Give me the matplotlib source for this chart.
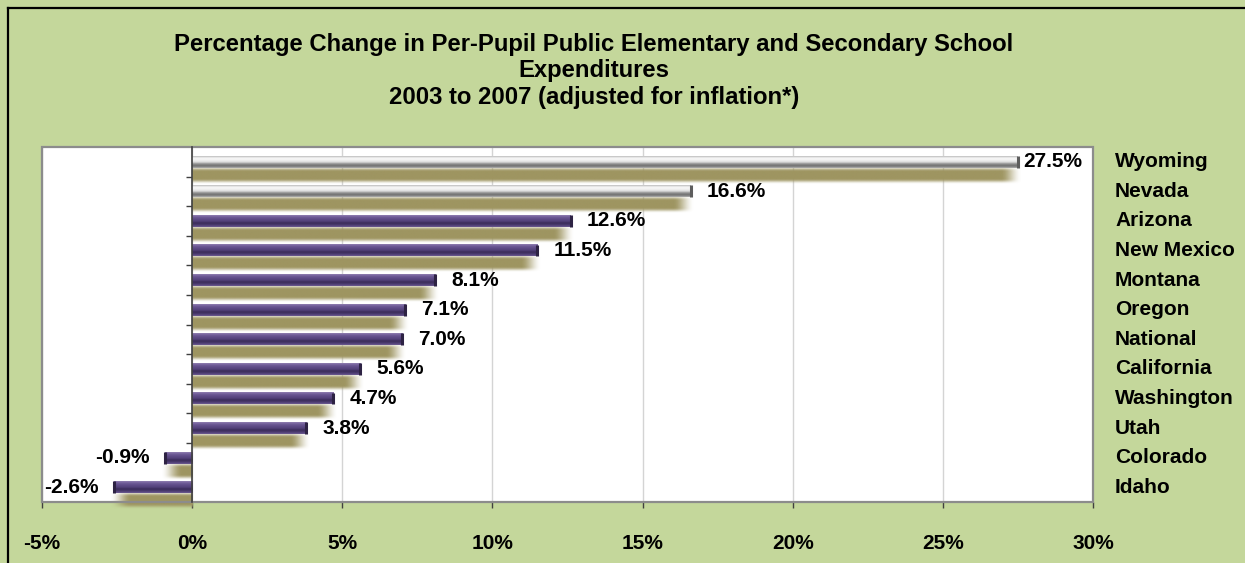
import matplotlib
matplotlib.use("Agg")
import matplotlib.pyplot as plt
from matplotlib.colors import to_rgb
from matplotlib.lines import Line2D
from matplotlib.patches import Rectangle
import numpy as np

plt.rcParams['font.family'] = ['Liberation Sans', 'DejaVu Sans']
plt.rcParams['font.weight'] = 'bold'

# per-pupil spending change, 2003 to 2007, inflation adjusted (%)
states = ['Wyoming', 'Nevada', 'Arizona', 'New Mexico', 'Montana', 'Oregon',
          'National', 'California', 'Washington', 'Utah', 'Colorado', 'Idaho']
change = [27.5, 16.6, 12.6, 11.5, 8.1, 7.1, 7.0, 5.6, 4.7, 3.8, -0.9, -2.6]
x_ticks = [-5, 0, 5, 10, 15, 20, 25, 30]
tick_labels = ['-5%', '0%', '5%', '10%', '15%', '20%', '25%', '30%']
title = ('Percentage Change in Per-Pupil Public Elementary and Secondary School\n'
         'Expenditures\n2003 to 2007 (adjusted for inflation*)')

BG = '#C4D79B'
SHADOW = '#9E9561'
PURPLE = ['#8F7EB0', '#6E5B96', '#5F4C87', '#54427B', '#3B2C5A', '#4A3A6E', '#6C5A92']
SILVER = ['#BEBEBE', '#F7F7F7', '#F2F2F2', '#DCDCDC', '#8E8E8E', '#6F6F6F', '#B0B0B0']


def blend(stops, n):
    pos = np.linspace(0, 1, len(stops))
    rgb = np.array([to_rgb(c) for c in stops])
    t = np.linspace(0, 1, n)
    return np.stack([np.interp(t, pos, rgb[:, k]) for k in range(3)], axis=-1)


def smooth(x):
    x = np.clip(x, 0, 1)
    return x * x * (3 - 2 * x)


def gradient_bar(ax, y, value, height, stops):
    col = blend(stops, 40)[:, None, :]
    img = np.repeat(col, 4, axis=1)
    ax.imshow(img, extent=(0, value, y + height / 2, y - height / 2), origin='upper',
              aspect='auto', interpolation='bilinear', zorder=3)
    # darker cap at the bar end
    ax.plot([value, value], [y - height / 2, y + height / 2], color=tuple(blend(stops, 40)[28] * 0.7),
            linewidth=2.2, solid_capstyle='butt', zorder=4)


def soft_shadow(ax, y, value, height, spill=0.15):
    rows, cols = 40, 300
    t = (np.arange(rows) + 0.5) / rows
    a_v = smooth(np.minimum(t, 1 - t) / 0.3)
    span = abs(value) + spill
    xs = np.linspace(0, span, cols)
    a_h = smooth((span - xs) / 0.7)
    img = np.zeros((rows, cols, 4))
    img[..., :3] = to_rgb(SHADOW)
    img[..., 3] = a_v[:, None] * a_h[None, :]
    right = value + spill if value >= 0 else value - spill
    ax.imshow(img, extent=(0, right, y + height / 2, y - height / 2), origin='upper',
              aspect='auto', interpolation='bilinear', zorder=2, clip_on=False)


fig = plt.figure(figsize=(12.45, 5.63), dpi=100, facecolor=BG)
ax = fig.add_axes([42 / 1245, 61 / 563, 1051 / 1245, 355 / 563])
ax.set_facecolor('white')

pos = np.arange(len(states))
for i, (name, v) in enumerate(zip(states, change)):
    stops = SILVER if v > 15 else PURPLE
    soft_shadow(ax, pos[i] + 0.45, v, 0.58)
    gradient_bar(ax, pos[i], v, 0.4, stops)
    if v >= 0:
        off = 4 if v > 25 else 11.5
        ax.annotate(f'{v:.1f}%', (v, pos[i]), xytext=(off, 0), textcoords='offset points',
                    ha='left', va='center', fontsize=15, fontweight='bold', zorder=6)
    else:
        ax.annotate(f'{v:.1f}%', (v, pos[i]), xytext=(-11, 0), textcoords='offset points',
                    ha='right', va='center', fontsize=15, fontweight='bold', zorder=6)
    ax.text(1.021, pos[i], name, transform=ax.get_yaxis_transform(),
            ha='left', va='center', fontsize=15, fontweight='bold')

ax.set_xlim(-5, 30)
ax.set_ylim(len(states) - 0.5, -0.5)

ax.set_xticks(x_ticks)
ax.set_xticklabels(tick_labels, fontsize=15, fontweight='bold')
ax.tick_params(axis='x', direction='out', length=4, width=1, color='#404040', pad=19)
ax.xaxis.grid(True, color='#D4D4D4', linewidth=1)
ax.set_axisbelow(True)

# zero line carries the category ticks
ax.spines['left'].set_position(('data', 0))
ax.spines['left'].set_color('#404040')
ax.spines['left'].set_linewidth(1.2)
ax.spines['left'].set_zorder(5)
ax.set_yticks(pos[1:] - 0.5)
ax.set_yticklabels([])
ax.tick_params(axis='y', direction='out', length=4, width=1, color='#404040')
for s in ('top', 'right', 'bottom'):
    ax.spines[s].set_visible(False)
ax.add_patch(Rectangle((0, 0), 1, 1, transform=ax.transAxes, fill=False,
                       edgecolor='#8C8C8C', linewidth=1.6, zorder=5, clip_on=False))

fig.text(594 / 1245, 1 - 71 / 563, title, ha='center', va='center', fontsize=17.2,
         fontweight='bold', linespacing=1.18)

# chart border on the left and top edges
bx, by = 7.5 / 1245, 1 - 7.5 / 563
fig.add_artist(Line2D([bx, bx], [0, by], transform=fig.transFigure, color='black', linewidth=1.6))
fig.add_artist(Line2D([bx, 1], [by, by], transform=fig.transFigure, color='black', linewidth=1.6))

fig.savefig('out.png', dpi=100, facecolor=BG)
